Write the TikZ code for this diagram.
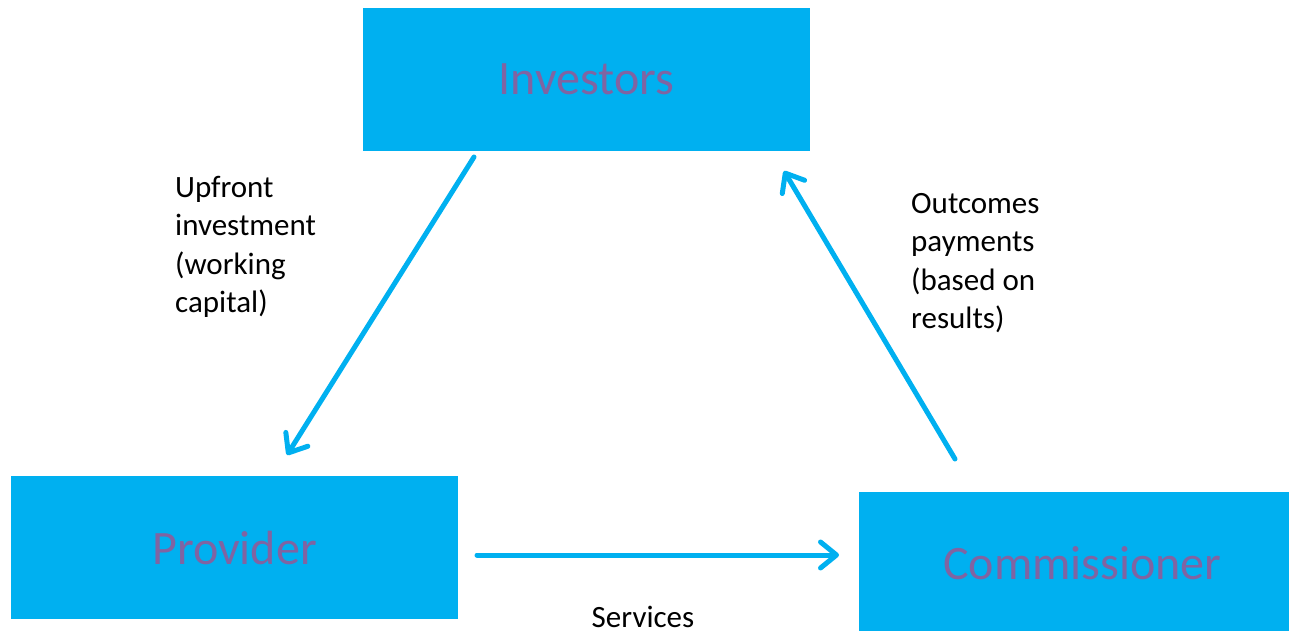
\documentclass[tikz,border=0pt]{standalone}
\usepackage{fontspec}
\setmainfont{Carlito}
\usetikzlibrary{arrows.meta}
\definecolor{boxblue}{HTML}{00B0F0}
\definecolor{boxtext}{HTML}{8064A2}
\begin{document}
\begin{tikzpicture}[x=1pt,y=-1pt,
  entity/.style={fill=boxblue,draw=none,minimum width=447pt,minimum height=143pt,inner sep=0pt,
    text=boxtext,font=\fontsize{48pt}{58pt}\selectfont},
  flow/.style={draw=boxblue,line width=5pt,line cap=round,
    -{Straight Barb[length=16pt,width=26pt,round]}},
  lbl/.style={font=\fontsize{31pt}{38.5pt}\selectfont,align=left,inner sep=0pt,text=black}]
\useasboundingbox (0,0) rectangle (1289,631);
\begin{scope}
\clip (0,0) rectangle (1289,631);
\node[entity] (inv) at (586.5,79.5) {Investors};
\node[entity] (prov) at (234.5,547.5) {Provider};
\node[entity] (comm) at (1082.5,563.5) {Commissioner};
\end{scope}
\coordinate (a1s) at (474,157);
\coordinate (a1e) at (287,455);
\coordinate (a2s) at (955,459);
\coordinate (a2e) at (784,171);
\coordinate (a3s) at (477,555);
\coordinate (a3e) at (839,555);
\draw[flow] (a1s) -- (a1e);
\draw[flow] (a2s) -- (a2e);
\draw[flow] (a3s) -- (a3e);
\node[lbl,anchor=base west] (l1) at (175,197) {Upfront};
\node[lbl,anchor=base west] (l2) at (175,235.5) {investment};
\node[lbl,anchor=base west] (l3) at (175,274) {(working};
\node[lbl,anchor=base west] (l4) at (175,312.5) {capital)};
\node[lbl,anchor=base west] (r1) at (911,213) {Outcomes};
\node[lbl,anchor=base west] (r2) at (911,251.5) {payments};
\node[lbl,anchor=base west] (r3) at (911,290) {(based on};
\node[lbl,anchor=base west] (r4) at (911,328.5) {results)};
\node[lbl,anchor=base,text depth=0pt] (svc) at (643,627.5) {Services};
\end{tikzpicture}
\end{document}
